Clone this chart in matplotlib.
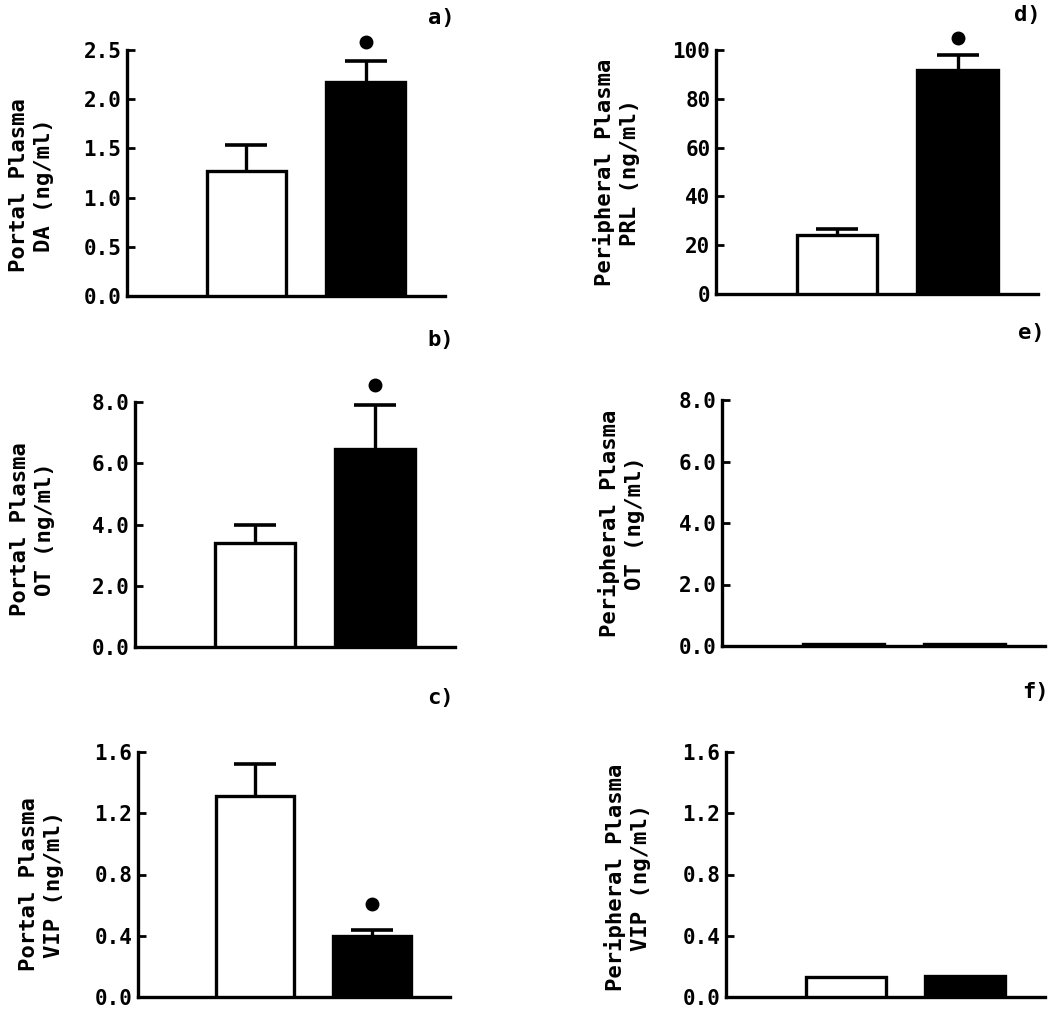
import matplotlib
matplotlib.use("Agg")
import matplotlib.pyplot as plt

plt.rcParams['font.family'] = ['DejaVu Sans Mono']
plt.rcParams['font.weight'] = 'bold'

# panel data: [white bar, black bar]
panel_ids = ['a)', 'b)', 'c)', 'd)', 'e)', 'f)']
ylabels = [
    'Portal Plasma\nDA (ng/ml)',
    'Portal Plasma\nOT (ng/ml)',
    'Portal Plasma\nVIP (ng/ml)',
    'Peripheral Plasma\nPRL (ng/ml)',
    'Peripheral Plasma\nOT (ng/ml)',
    'Peripheral Plasma\nVIP (ng/ml)',
]
means = [
    [1.27, 2.17],
    [3.4, 6.45],
    [1.31, 0.40],
    [24, 92],
    [0.08, 0.08],
    [0.13, 0.14],
]
sems = [
    [0.26, 0.22],
    [0.6, 1.45],
    [0.21, 0.04],
    [2.5, 6],
    [0.0, 0.0],
    [0.0, 0.0],
]
# height of the significance dot (None = no dot)
star_y = [2.58, 8.55, 0.61, 105, None, None]
yticks = [
    [0.0, 0.5, 1.0, 1.5, 2.0, 2.5],
    [0.0, 2.0, 4.0, 6.0, 8.0],
    [0.0, 0.4, 0.8, 1.2, 1.6],
    [0, 20, 40, 60, 80, 100],
    [0.0, 2.0, 4.0, 6.0, 8.0],
    [0.0, 0.4, 0.8, 1.2, 1.6],
]
tick_fmt = ['{:.1f}', '{:.1f}', '{:.1f}', '{:.0f}', '{:.1f}', '{:.1f}']

bar_x = [1.5, 3.0]
bar_colors = ['white', 'black']

# axes boxes in pixels: left, top, right, bottom (figure 1050 x 1011)
W, H = 1050, 1011
boxes = [
    (127, 50, 445, 296),
    (135, 402, 455, 647),
    (138, 752, 450, 997),
    (716, 50, 1038, 294),
    (722, 400, 1045, 646),
    (726, 752, 1045, 997),
]
label_pos = [(0.99, 1.13), (0.955, 1.255), (0.968, 1.22),
             (0.966, 1.143), (0.957, 1.272), (0.969, 1.245)]
ylab_pos = [(-0.30, 0.45), (-0.32, 0.48), (-0.31, 0.46),
            (-0.31, 0.5), (-0.31, 0.5), (-0.31, 0.49)]

fig = plt.figure(figsize=(W / 100, H / 100), dpi=100)

for i in range(6):
    l, t, r, b = boxes[i]
    ax = fig.add_axes([l / W, 1 - b / H, (r - l) / W, (b - t) / H])
    top = yticks[i][-1]

    ax.bar(bar_x, means[i], width=1.0, color=bar_colors,
           edgecolor='black', linewidth=2.4, zorder=3)
    for x, m, e in zip(bar_x, means[i], sems[i]):
        if e > 0:
            _, caps, _ = ax.errorbar(x, m, yerr=[[0], [e]], fmt='none',
                                     ecolor='black', elinewidth=2.4,
                                     capsize=15, capthick=2.6,
                                     zorder=1, clip_on=False)
            # only the upper cap is drawn
            caps[0].set_visible(False)
    if star_y[i] is not None:
        ax.plot(bar_x[1], star_y[i], 'o', color='black', markersize=9,
                clip_on=False)

    ax.set_xlim(0, 4)
    ax.set_ylim(0, top)
    ax.set_yticks(yticks[i])
    ax.set_yticklabels([tick_fmt[i].format(v) for v in yticks[i]],
                       fontsize=15, fontweight='bold')
    ax.set_xticks([])
    ax.tick_params(axis='y', direction='in', length=6, width=2, pad=4)
    for s in ['top', 'right']:
        ax.spines[s].set_visible(False)
    for s in ['left', 'bottom']:
        ax.spines[s].set_linewidth(2.4)

    ax.text(ylab_pos[i][0], ylab_pos[i][1], ylabels[i], transform=ax.transAxes,
            rotation=90, ha='center', va='center', multialignment='center',
            fontsize=16, fontweight='bold', linespacing=1.3)
    ax.text(label_pos[i][0], label_pos[i][1], panel_ids[i],
            transform=ax.transAxes, ha='center', va='center',
            fontsize=16, fontweight='bold')

fig.savefig('out.png', dpi=100)
